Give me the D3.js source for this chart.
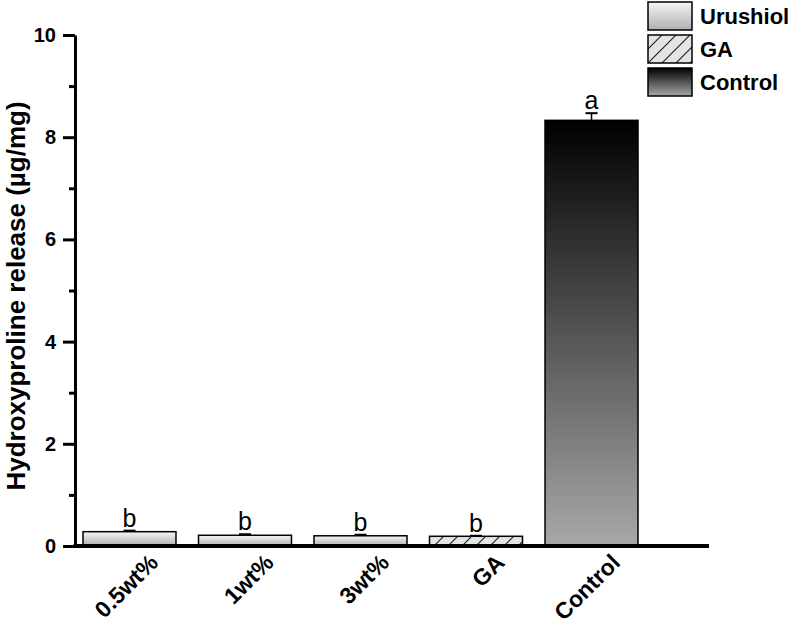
<!DOCTYPE html>
<html lang="en">
<head>
    <meta charset="UTF-8">
    <title>Hydroxyproline release</title>
    <script src="https://d3js.org/d3.v7.min.js"></script>
    <style>
        body { margin: 0; background: #fff; font-family: Arial, "Liberation Sans", sans-serif; }
        .axis text { font-weight: bold; font-size: 20px; fill: #000; }
        .axis path, .axis line { stroke: #000; }
    </style>
</head>
<body>
<div id="chart"></div>
<script>
    // data
    const categories = ["0.5wt%", "1wt%", "3wt%", "GA", "Control"];
    const values = [0.28, 0.21, 0.2, 0.19, 8.33];
    const errors = [0.02, 0.02, 0.02, 0.01, 0.14];
    const groups = ["Urushiol", "Urushiol", "Urushiol", "GA", "Control"];
    const sigLetters = ["b", "b", "b", "b", "a"];
    const legendItems = ["Urushiol", "GA", "Control"];
    const yTicks = [0, 2, 4, 6, 8, 10];
    const yMinorTicks = [1, 3, 5, 7, 9];

    const W = 796, H = 630;
    const x0 = 75, y0 = 546, yTop = 35, xEnd = 709;

    const svg = d3.select("#chart").append("svg")
        .attr("width", W).attr("height", H);

    const defs = svg.append("defs");
    const gLight = defs.append("linearGradient").attr("id", "gLight")
        .attr("x1", 0).attr("y1", 0).attr("x2", 0).attr("y2", 1);
    gLight.append("stop").attr("offset", "0%").attr("stop-color", "#f6f6f6");
    gLight.append("stop").attr("offset", "100%").attr("stop-color", "#b0b0b0");

    const gDark = defs.append("linearGradient").attr("id", "gDark")
        .attr("x1", 0).attr("y1", 0).attr("x2", 0).attr("y2", 1);
    gDark.append("stop").attr("offset", "0%").attr("stop-color", "#000");
    gDark.append("stop").attr("offset", "100%").attr("stop-color", "#a8a8a8");

    const hatch = defs.append("pattern").attr("id", "hatch")
        .attr("patternUnits", "userSpaceOnUse").attr("width", 14).attr("height", 14);
    hatch.append("rect").attr("width", 14).attr("height", 14).attr("fill", "#e4e4e4");
    hatch.append("path").attr("d", "M0,14 L14,0 M-4,4 L4,-4 M10,18 L18,10")
        .attr("stroke", "#222").attr("stroke-width", 1.2);

    const fillFor = g => g === "Control" ? "url(#gDark)" : g === "GA" ? "url(#hatch)" : "url(#gLight)";

    const x = d3.scaleBand()
        .domain(categories)
        .range([83, 638])
        .paddingInner(0.195)
        .paddingOuter(0);

    const y = d3.scaleLinear().domain([0, 10]).range([y0, yTop]);

    const data = categories.map((c, i) => ({ c, v: values[i], e: errors[i], g: groups[i], s: sigLetters[i] }));

    // bars
    svg.selectAll(".bar").data(data).enter().append("rect")
        .attr("class", "bar")
        .attr("x", d => x(d.c))
        .attr("y", d => y(d.v))
        .attr("width", x.bandwidth())
        .attr("height", d => y0 - y(d.v))
        .attr("fill", d => fillFor(d.g))
        .attr("stroke", "#000").attr("stroke-width", 1.5);

    // error bars (upper only)
    const cx = d => x(d.c) + x.bandwidth() / 2;
    const eb = svg.selectAll(".err").data(data).enter().append("g");
    eb.append("line")
        .attr("x1", cx).attr("x2", cx)
        .attr("y1", d => y(d.v)).attr("y2", d => y(d.v + d.e))
        .attr("stroke", "#000").attr("stroke-width", 1.5);
    eb.append("line")
        .attr("x1", d => cx(d) - 6).attr("x2", d => cx(d) + 6)
        .attr("y1", d => y(d.v + d.e)).attr("y2", d => y(d.v + d.e))
        .attr("stroke", "#000").attr("stroke-width", 2);

    // significance letters
    svg.selectAll(".sig").data(data).enter().append("text")
        .attr("x", cx)
        .attr("y", d => y(d.v + d.e) - 4)
        .attr("text-anchor", "middle")
        .style("font-size", "25px")
        .text(d => d.s);

    // y axis
    const yAxis = svg.append("g").attr("class", "axis")
        .attr("transform", `translate(${x0},0)`)
        .call(d3.axisLeft(y).tickValues(yTicks).tickSize(12).tickPadding(7).tickSizeOuter(0));
    yAxis.select(".domain").attr("stroke-width", 3);
    yAxis.selectAll(".tick line").attr("stroke-width", 3);

    // minor ticks
    svg.append("g").attr("class", "axis")
        .attr("transform", `translate(${x0},0)`)
        .call(d3.axisLeft(y).tickValues(yMinorTicks).tickSize(6).tickFormat(""))
        .call(g => g.select(".domain").remove())
        .selectAll(".tick line").attr("stroke-width", 3);

    // x axis
    const xAxis = svg.append("g").attr("class", "axis")
        .attr("transform", `translate(0,${y0})`)
        .call(d3.axisBottom(x).tickSize(0).tickPadding(0));
    xAxis.select(".domain").remove();
    svg.append("line").attr("x1", x0 - 1.5).attr("x2", xEnd)
        .attr("y1", y0).attr("y2", y0)
        .attr("stroke", "#000").attr("stroke-width", 4);
    xAxis.selectAll(".tick text")
        .style("font-size", "23px")
        .attr("text-anchor", "end")
        .attr("dy", 0)
        .attr("transform", "translate(30,18) rotate(-45)");

    // y label
    svg.append("text")
        .attr("transform", `translate(25,296) rotate(-90)`)
        .attr("text-anchor", "middle")
        .style("font-weight", "bold").style("font-size", "26px")
        .text("Hydroxyproline release (\u00b5g/mg)");

    // legend
    const fills = { Urushiol: "url(#gLight)", GA: "url(#hatch)", Control: "url(#gDark)" };
    const leg = svg.selectAll(".leg").data(legendItems).enter().append("g")
        .attr("transform", (d, i) => `translate(648,${2 + i * 33})`);
    leg.append("rect").attr("width", 44).attr("height", 28)
        .attr("fill", d => fills[d]).attr("stroke", "#000").attr("stroke-width", 1.5);
    leg.append("text").attr("x", 52).attr("y", 22)
        .style("font-weight", "bold").style("font-size", "22px")
        .text(d => d);
</script>
</body>
</html>
